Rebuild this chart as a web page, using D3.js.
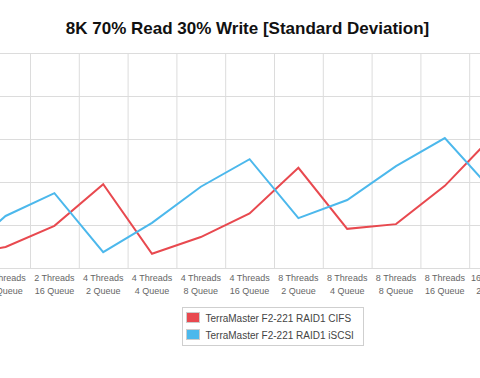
<!DOCTYPE html>
<html>
<head>
<meta charset="utf-8">
<script src="https://cdn.jsdelivr.net/npm/d3@7"></script>
<style>
  body { margin: 0; background: #fff; }
  svg { display: block; font-family: "Liberation Sans", Arial, Helvetica, sans-serif; }
</style>
</head>
<body>
<svg id="chart" width="480" height="378"></svg>
<script>
const title = "8K 70% Read 30% Write [Standard Deviation]";

const threads = ["2 Threads", "2 Threads", "2 Threads", "4 Threads", "4 Threads", "4 Threads", "4 Threads",
                 "8 Threads", "8 Threads", "8 Threads", "8 Threads", "16 Threads"];
const queues = ["4 Queue", "8 Queue", "16 Queue", "2 Queue", "4 Queue", "8 Queue", "16 Queue",
                "2 Queue", "4 Queue", "8 Queue", "16 Queue", "2 Queue"];

const cifs = [0.28, 0.49, 0.98, 1.95, 0.33, 0.72, 1.27, 2.33, 0.91, 1.02, 1.91, 3.09];
const iscsi = [0.23, 1.21, 1.74, 0.37, 1.05, 1.89, 2.53, 1.16, 1.58, 2.37, 3.02, 1.77];

const yTicks = [0, 1, 2, 3, 4, 5];

const seriesNames = ["TerraMaster F2-221 RAID1 CIFS", "TerraMaster F2-221 RAID1 iSCSI"];
const seriesColors = ["#e8494f", "#4cb8ec"];

const categories = threads.map((t, i) => t + "|" + queues[i]);

const svg = d3.select("#chart");

// the chart is wider than the window, only the middle part is visible
const band = 48.8;
const plotLeft = -67.6;
const plotTop = 53, plotBottom = 268;

const x = d3.scaleBand()
    .domain(categories)
    .range([plotLeft, plotLeft + band * categories.length]);

const y = d3.scaleLinear()
    .domain([0, 5])
    .range([plotBottom, plotTop]);

// title
svg.append("text")
    .attr("x", 247.5)
    .attr("y", 34)
    .attr("text-anchor", "middle")
    .attr("font-size", 17)
    .attr("font-weight", "bold")
    .attr("fill", "#111")
    .text(title);

// horizontal grid (its labels sit off the left edge, so none are drawn)
const yGrid = svg.append("g")
    .attr("transform", `translate(${plotLeft},0)`)
    .call(d3.axisLeft(y)
        .tickValues(yTicks)
        .tickSize(-band * categories.length)
        .tickFormat(""));
yGrid.select(".domain").remove();
yGrid.selectAll("line").attr("stroke", "#dcdcdc");

// vertical grid between categories
const bounds = categories.slice(1).map(c => x(c));
svg.append("g")
    .selectAll("line")
    .data(bounds)
    .join("line")
    .attr("x1", d => d + 0.5)
    .attr("x2", d => d + 0.5)
    .attr("y1", plotTop)
    .attr("y2", plotBottom)
    .attr("stroke", "#dcdcdc");

// x axis labels, two lines each
const xAxis = svg.append("g")
    .attr("transform", `translate(0,${plotBottom})`)
    .call(d3.axisBottom(x).tickSize(0).tickFormat(""));
xAxis.select(".domain").remove();

xAxis.selectAll(".tick")
    .append("text")
    .attr("text-anchor", "middle")
    .attr("font-size", 9)
    .attr("fill", "#666")
    .selectAll("tspan")
    .data(d => d.split("|"))
    .join("tspan")
    .attr("x", 0)
    .attr("y", (d, i) => 13 + i * 12.5)
    .text(d => d);

// lines
const line = d3.line()
    .x((d, i) => x(categories[i]) + x.bandwidth() / 2)
    .y(d => y(d));

[cifs, iscsi].forEach((vals, k) => {
    svg.append("path")
        .datum(vals)
        .attr("fill", "none")
        .attr("stroke", seriesColors[k])
        .attr("stroke-width", 2)
        .attr("stroke-linejoin", "miter")
        .attr("d", line);
});

// legend
const legend = svg.append("g").attr("transform", "translate(182.5,307.5)");
legend.append("rect")
    .attr("width", 181)
    .attr("height", 38)
    .attr("fill", "#fff")
    .attr("stroke", "#cfcfcf");

const items = legend.selectAll("g.item")
    .data(seriesNames)
    .join("g")
    .attr("class", "item")
    .attr("transform", (d, i) => `translate(4,${5 + i * 17})`);

items.append("rect")
    .attr("width", 13)
    .attr("height", 10)
    .attr("fill", (d, i) => seriesColors[i])
    .attr("stroke", "#ccc");

items.append("text")
    .attr("x", 19)
    .attr("y", 9)
    .attr("font-size", 10)
    .attr("fill", "#444")
    .text(d => d);
</script>
</body>
</html>
